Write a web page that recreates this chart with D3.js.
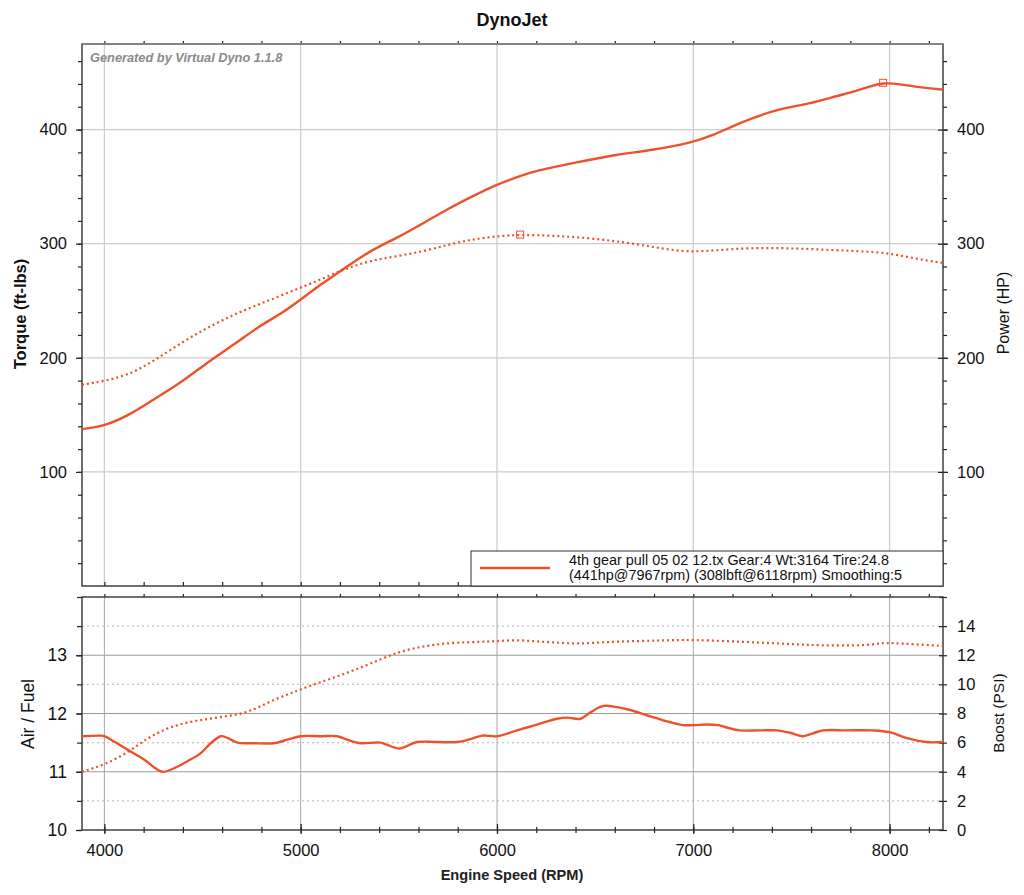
<!DOCTYPE html>
<html>
<head>
<meta charset="utf-8">
<script src="https://d3js.org/d3.v7.min.js"></script>
<style>
  body { margin: 0; background: #fff; }
  text { font-family: "Liberation Sans", Arial, sans-serif; }
</style>
</head>
<body>
<div id="chart"></div>
<script>
// power (solid) and torque (dotted), top panel
const rpmHp = [3886, 4000, 4130, 4250, 4390, 4520, 4660, 4790, 4900, 5000, 5100, 5220, 5350, 5490, 5630, 5760, 5880, 6000, 6120, 6200, 6400, 6600, 6800, 7000, 7100, 7200, 7300, 7400, 7500, 7600, 7700, 7816, 7900, 7967, 8050, 8150, 8272];
const hp = [137.5, 140, 150, 163.5, 178, 195.5, 211.5, 228, 238.5, 251, 264, 278, 293.5, 305, 318.5, 331.5, 342, 352, 359.5, 364, 371, 378, 382, 389, 395, 403, 410, 416, 420, 423, 428, 433, 438, 441, 440, 437, 435];

const rpmTq = [3886, 4000, 4130, 4250, 4390, 4520, 4660, 4790, 5000, 5100, 5220, 5350, 5490, 5630, 5760, 5880, 6000, 6118, 6300, 6500, 6700, 6900, 7000, 7100, 7300, 7500, 7700, 7900, 8000, 8100, 8200, 8272];
const torque = [176.5, 179.5, 185.5, 197, 213, 226, 238, 247, 261.5, 268.5, 277.5, 285, 289, 293.5, 299.5, 304, 306.5, 308, 307, 304.5, 300, 294, 293, 294, 296.5, 296, 294.5, 293, 291.5, 288, 285, 283];

// air/fuel (solid) and boost (dotted), bottom panel
const rpmAf = [3886, 3981, 4000, 4049, 4117, 4202, 4295, 4355, 4423, 4491, 4542, 4593, 4627, 4678, 4763, 4864, 4932, 5000, 5102, 5187, 5237, 5305, 5407, 5500, 5593, 5695, 5797, 5864, 5924, 6000, 6102, 6204, 6306, 6357, 6425, 6476, 6543, 6611, 6679, 6764, 6883, 6949, 7000, 7068, 7127, 7170, 7237, 7339, 7424, 7492, 7559, 7610, 7661, 7780, 7915, 8000, 8085, 8186, 8272];
const airFuel = [11.61, 11.62, 11.61, 11.52, 11.38, 11.21, 11.0, 11.06, 11.18, 11.32, 11.49, 11.61, 11.58, 11.5, 11.49, 11.49, 11.55, 11.61, 11.61, 11.61, 11.55, 11.49, 11.5, 11.4, 11.51, 11.51, 11.51, 11.56, 11.62, 11.61, 11.71, 11.81, 11.91, 11.93, 11.91, 12.02, 12.13, 12.11, 12.06, 11.97, 11.85, 11.8, 11.8, 11.81, 11.8, 11.76, 11.71, 11.71, 11.71, 11.67, 11.61, 11.66, 11.71, 11.71, 11.71, 11.68, 11.58, 11.51, 11.51];

const rpmBoost = [3886, 4000, 4117, 4219, 4321, 4423, 4525, 4627, 4729, 4830, 4932, 5000, 5102, 5203, 5305, 5407, 5500, 5593, 5695, 5797, 5915, 6000, 6102, 6204, 6306, 6408, 6510, 6611, 6713, 6815, 6900, 7000, 7170, 7339, 7508, 7644, 7847, 7915, 7966, 8017, 8119, 8272];
const boost = [4.0, 4.48, 5.29, 6.32, 7.01, 7.4, 7.63, 7.82, 8.05, 8.74, 9.31, 9.66, 10.16, 10.62, 11.15, 11.72, 12.23, 12.53, 12.76, 12.87, 12.92, 12.97, 13.06, 12.94, 12.87, 12.78, 12.87, 12.94, 12.97, 13.01, 13.04, 13.06, 12.97, 12.87, 12.76, 12.67, 12.67, 12.74, 12.85, 12.83, 12.76, 12.64];

// peaks and tick labels
const peakHp = { rpm: 7967, value: 441 };
const peakTq = { rpm: 6118, value: 308 };
const rpmTicks = [4000, 5000, 6000, 7000, 8000];
const topTicks = [100, 200, 300, 400];
const afTicks = [10, 11, 12, 13];
const boostTicks = [0, 2, 4, 6, 8, 10, 12, 14];
const legendLines = ["4th gear pull 05 02 12.tx Gear:4 Wt:3164 Tire:24.8",
                     "(441hp@7967rpm) (308lbft@6118rpm) Smoothing:5"];

const red = "#ee512b";
const W = 1024, H = 895;
const left = 82, right = 943;
const topY0 = 44, topY1 = 586;
const botY0 = 597, botY1 = 830;

const svg = d3.select("#chart").append("svg")
    .attr("width", W).attr("height", H);

const x = d3.scaleLinear().domain([3886, 8272]).range([left, right]);
const yTop = d3.scaleLinear().domain([0, 475]).range([topY1, topY0]);
const yAf = d3.scaleLinear().domain([10, 14]).range([botY1, botY0]);
const yBoost = d3.scaleLinear().domain([0, 16]).range([botY1, botY0]);

// title
svg.append("text").attr("x", 512).attr("y", 26).attr("text-anchor", "middle")
    .style("font-size", "18px").style("font-weight", "bold").attr("fill", "#111").text("DynoJet");

// ---------- top panel grid ----------
const gTop = svg.append("g");
gTop.selectAll(".hg").data(topTicks).enter().append("line")
    .attr("x1", left).attr("x2", right)
    .attr("y1", d => yTop(d)).attr("y2", d => yTop(d))
    .attr("stroke", "#cccccc").attr("stroke-width", 1.2);
gTop.selectAll(".vg").data(rpmTicks).enter().append("line")
    .attr("x1", d => x(d)).attr("x2", d => x(d))
    .attr("y1", topY0).attr("y2", topY1)
    .attr("stroke", "#cccccc").attr("stroke-width", 1.2);

svg.append("text").attr("x", 90).attr("y", 62)
    .style("font-size", "12.8px").style("font-weight", "bold").style("font-style", "italic")
    .attr("fill", "#8a8a8a").text("Generated by Virtual Dyno 1.1.8");

// ---------- bottom panel grid ----------
const gBot = svg.append("g");
gBot.selectAll(".hd").data([10.5, 11.5, 12.5, 13.5]).enter().append("line")
    .attr("x1", left).attr("x2", right)
    .attr("y1", d => yAf(d)).attr("y2", d => yAf(d))
    .attr("stroke", "#c4c4c4").attr("stroke-width", 1.2).attr("stroke-dasharray", "2,3");
gBot.selectAll(".hs").data([11, 12, 13]).enter().append("line")
    .attr("x1", left).attr("x2", right)
    .attr("y1", d => yAf(d)).attr("y2", d => yAf(d))
    .attr("stroke", "#9a9a9a").attr("stroke-width", 1);
gBot.selectAll(".vg").data(rpmTicks).enter().append("line")
    .attr("x1", d => x(d)).attr("x2", d => x(d))
    .attr("y1", botY0).attr("y2", botY1)
    .attr("stroke", "#a8a8a8").attr("stroke-width", 1);

// ---------- axes ----------
function styleAxis(g, labelSize) {
    g.select(".domain").remove();
    g.selectAll(".tick line").attr("stroke", "#222").attr("stroke-width", 1.2);
    g.selectAll(".tick text").style("font-size", labelSize || "16.5px").attr("fill", "#111")
        .style("font-family", "'Liberation Sans', Arial, sans-serif");
}
const minorTop = d3.range(20, 475, 20);
const minorRpm = d3.range(4000, 8272, 200);
const minorAf = d3.range(10, 14.01, 0.5);

// top panel left
svg.append("g").attr("transform", `translate(${left},0)`)
    .call(d3.axisLeft(yTop).tickValues(minorTop).tickSize(4).tickFormat(""))
    .call(g => styleAxis(g));
svg.append("g").attr("transform", `translate(${left},0)`)
    .call(d3.axisLeft(yTop).tickValues(topTicks).tickSize(6).tickPadding(9))
    .call(g => styleAxis(g));
// top panel right
svg.append("g").attr("transform", `translate(${right},0)`)
    .call(d3.axisRight(yTop).tickValues(minorTop).tickSize(4).tickFormat(""))
    .call(g => styleAxis(g));
svg.append("g").attr("transform", `translate(${right - 5},0)`)
    .call(d3.axisRight(yTop).tickValues(topTicks).tickSize(10).tickPadding(9))
    .call(g => styleAxis(g));
// top panel top and bottom edges
svg.append("g").attr("transform", `translate(0,${topY0})`)
    .call(d3.axisTop(x).tickValues(minorRpm).tickSize(3).tickFormat(""))
    .call(g => styleAxis(g));
svg.append("g").attr("transform", `translate(0,${topY1})`)
    .call(d3.axisTop(x).tickValues(minorRpm).tickSize(4).tickFormat(""))
    .call(g => styleAxis(g));

// bottom panel left
svg.append("g").attr("transform", `translate(${left},0)`)
    .call(d3.axisLeft(yAf).tickValues(minorAf).tickSize(5).tickFormat(""))
    .call(g => styleAxis(g));
svg.append("g").attr("transform", `translate(${left},0)`)
    .call(d3.axisLeft(yAf).tickValues(afTicks).tickSize(6).tickPadding(9).tickFormat(d3.format("d")))
    .call(g => styleAxis(g, "17.5px"));
// bottom panel right
svg.append("g").attr("transform", `translate(${right - 4},0)`)
    .call(d3.axisRight(yBoost).tickValues(boostTicks.concat([16])).tickSize(8).tickFormat(""))
    .call(g => styleAxis(g));
svg.append("g").attr("transform", `translate(${right},0)`)
    .call(d3.axisRight(yBoost).tickValues(boostTicks).tickSize(0).tickPadding(14))
    .call(g => styleAxis(g));
// bottom panel top edge and x axis
svg.append("g").attr("transform", `translate(0,${botY0})`)
    .call(d3.axisTop(x).tickValues(minorRpm).tickSize(3).tickFormat(""))
    .call(g => styleAxis(g));
svg.append("g").attr("transform", `translate(0,${botY1 - 3})`)
    .call(d3.axisBottom(x).tickValues(minorRpm).tickSize(6).tickFormat(""))
    .call(g => styleAxis(g));
svg.append("g").attr("transform", `translate(0,${botY1 - 6})`)
    .call(d3.axisBottom(x).tickValues(rpmTicks).tickSize(10).tickFormat(""))
    .call(g => styleAxis(g));
svg.append("g").attr("transform", `translate(0,${botY1})`)
    .call(d3.axisBottom(x).tickValues(rpmTicks).tickSize(0).tickPadding(14).tickFormat(d3.format("d")))
    .call(g => styleAxis(g));

// frames
svg.append("rect").attr("x", left).attr("y", topY0).attr("width", right - left).attr("height", topY1 - topY0)
    .attr("fill", "none").attr("stroke", "#333").attr("stroke-width", 1.4);
svg.append("rect").attr("x", left).attr("y", botY0).attr("width", right - left).attr("height", botY1 - botY0)
    .attr("fill", "none").attr("stroke", "#333").attr("stroke-width", 1.4);
svg.append("line").attr("x1", left).attr("x2", right).attr("y1", topY0).attr("y2", topY0)
    .attr("stroke", "#888").attr("stroke-width", 1.4);

// ---------- curves ----------
const lineTop = d3.line().x(d => x(d[0])).y(d => yTop(d[1])).curve(d3.curveBasis);
const lineAf = d3.line().x(d => x(d[0])).y(d => yAf(d[1])).curve(d3.curveCatmullRom);
const lineBoost = d3.line().x(d => x(d[0])).y(d => yBoost(d[1])).curve(d3.curveBasis);

svg.append("path").datum(d3.zip(rpmTq, torque)).attr("d", lineTop)
    .attr("fill", "none").attr("stroke", red).attr("stroke-width", 2.2).attr("stroke-dasharray", "2,3");
svg.append("path").datum(d3.zip(rpmHp, hp)).attr("d", lineTop)
    .attr("fill", "none").attr("stroke", red).attr("stroke-width", 2.4);

svg.append("path").datum(d3.zip(rpmBoost, boost)).attr("d", lineBoost)
    .attr("fill", "none").attr("stroke", red).attr("stroke-width", 2.2).attr("stroke-dasharray", "2,3");
svg.append("path").datum(d3.zip(rpmAf, airFuel)).attr("d", lineAf)
    .attr("fill", "none").attr("stroke", red).attr("stroke-width", 2.4);

// peak markers
[peakHp, peakTq].forEach(p => {
    svg.append("rect").attr("x", x(p.rpm) - 3.5).attr("y", yTop(p.value) - 3.5)
        .attr("width", 7).attr("height", 7)
        .attr("fill", "none").attr("stroke", red).attr("stroke-width", 1);
});

// ---------- legend ----------
const lg = svg.append("g");
lg.append("rect").attr("x", 471).attr("y", 551).attr("width", right - 471).attr("height", topY1 - 551)
    .attr("fill", "#fff").attr("stroke", "#333").attr("stroke-width", 1);
lg.append("line").attr("x1", 480).attr("x2", 550).attr("y1", 568).attr("y2", 568)
    .attr("stroke", red).attr("stroke-width", 2.4);
lg.selectAll(".lt").data(legendLines).enter().append("text")
    .attr("x", 569).attr("y", (d, i) => 565 + i * 15)
    .style("font-size", "14.4px").attr("fill", "#111").text(d => d);

// ---------- axis titles ----------
svg.append("text").attr("transform", "translate(26,314) rotate(-90)").attr("text-anchor", "middle")
    .style("font-size", "16.5px").style("font-weight", "bold").attr("fill", "#111").text("Torque (ft-lbs)");
svg.append("text").attr("transform", "translate(1009,313) rotate(-90)").attr("text-anchor", "middle")
    .style("font-size", "16px").attr("fill", "#111").text("Power (HP)");
svg.append("text").attr("transform", "translate(34,714) rotate(-90)").attr("text-anchor", "middle")
    .style("font-size", "17.5px").attr("fill", "#111").text("Air / Fuel");
svg.append("text").attr("transform", "translate(1004,713) rotate(-90)").attr("text-anchor", "middle")
    .style("font-size", "15.5px").attr("fill", "#111").text("Boost (PSI)");
svg.append("text").attr("x", 512).attr("y", 880).attr("text-anchor", "middle")
    .style("font-size", "14.6px").style("font-weight", "bold").attr("fill", "#222").text("Engine Speed (RPM)");
</script>
</body>
</html>
